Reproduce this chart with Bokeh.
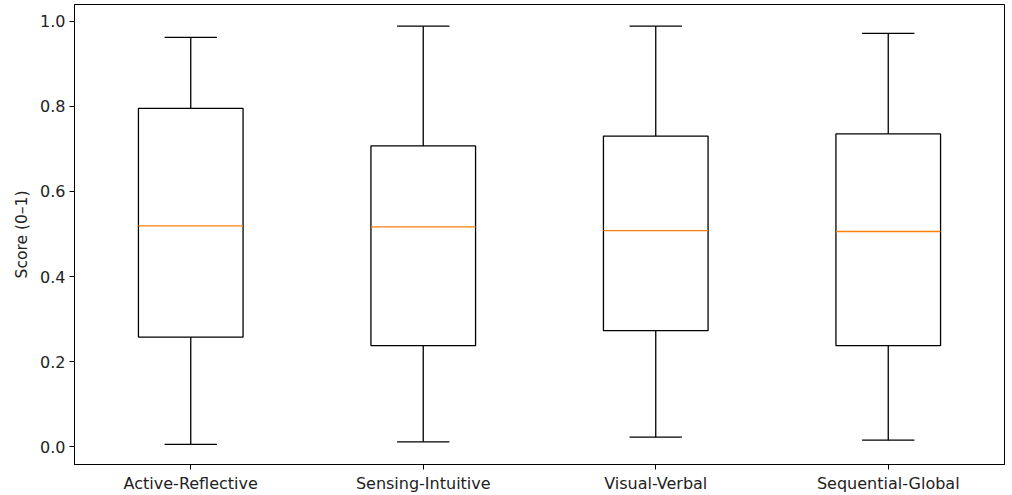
from bokeh.plotting import figure
from bokeh.models import FixedTicker, Range1d, ColumnDataSource
from bokeh.embed import file_html
from bokeh.resources import INLINE

categories = ["Active-Reflective", "Sensing-Intuitive", "Visual-Verbal", "Sequential-Global"]
whisker_low = [0.006, 0.012, 0.023, 0.016]
q1 = [0.258, 0.238, 0.273, 0.238]
median = [0.519, 0.517, 0.508, 0.506]
q3 = [0.795, 0.707, 0.730, 0.735]
whisker_high = [0.962, 0.988, 0.988, 0.971]

pos = [i + 1 for i in range(len(categories))]
box_w = 0.45
cap_w = box_w / 2

src = ColumnDataSource(dict(
    x=pos,
    left=[p - box_w / 2 for p in pos],
    right=[p + box_w / 2 for p in pos],
    cl=[p - cap_w / 2 for p in pos],
    cr=[p + cap_w / 2 for p in pos],
    low=whisker_low, q1=q1, med=median, q3=q3, high=whisker_high,
))

p = figure(width=1008, height=495, output_backend="svg", toolbar_location=None,
           x_range=Range1d(0.5, 4.5), y_range=Range1d(-0.0412, 1.039),
           min_border_left=74, min_border_right=4, min_border_top=4, min_border_bottom=30)

FONT = "DejaVu Sans"
LW = 1.3
# whiskers
p.segment(x0="x", y0="q3", x1="x", y1="high", source=src, line_color="black", line_width=LW)
p.segment(x0="x", y0="q1", x1="x", y1="low", source=src, line_color="black", line_width=LW)
# caps
p.segment(x0="cl", y0="high", x1="cr", y1="high", source=src, line_color="black", line_width=LW)
p.segment(x0="cl", y0="low", x1="cr", y1="low", source=src, line_color="black", line_width=LW)
# boxes
p.quad(left="left", right="right", bottom="q1", top="q3", source=src,
       fill_color="white", line_color="black", line_width=LW)
# medians
p.segment(x0="left", y0="med", x1="right", y1="med", source=src, line_color="#ff7f0e", line_width=LW)

p.xgrid.visible = False
p.ygrid.visible = False
p.outline_line_color = "black"
p.outline_line_width = 1
p.outline_line_alpha = 1

p.xaxis.ticker = FixedTicker(ticks=pos)
p.xaxis.major_label_overrides = {pos[i]: categories[i] for i in range(len(categories))}
p.yaxis.ticker = FixedTicker(ticks=[0.0, 0.2, 0.4, 0.6, 0.8, 1.0])
p.yaxis.major_label_overrides = {0.0: "0.0", 0.2: "0.2", 0.4: "0.4", 0.6: "0.6", 0.8: "0.8", 1.0: "1.0"}
p.yaxis.axis_label = "Score (0\u20131)"

for ax in (p.xaxis, p.yaxis):
    ax.major_label_text_font = FONT
    ax.major_label_text_font_size = "16px"
    ax.major_label_text_color = "#222222"
    ax.axis_label_text_font = FONT
    ax.axis_label_text_font_size = "15.5px"
    ax.axis_label_text_font_style = "normal"
    ax.axis_label_text_color = "#222222"
    ax.minor_tick_line_color = None
    ax.major_tick_in = 0
    ax.major_tick_out = 5
    ax.major_tick_line_color = "black"
    ax.axis_line_color = "black"
    ax.major_label_standoff = 4
p.yaxis.axis_label_standoff = 6

open("out.html", "w").write(file_html(p, INLINE))
